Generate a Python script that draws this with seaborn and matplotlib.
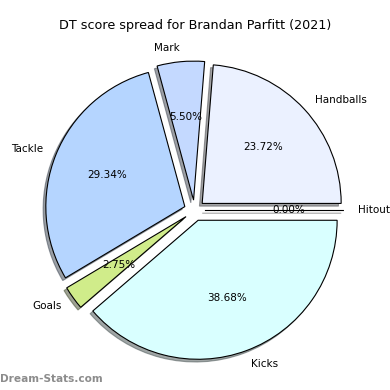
import matplotlib
matplotlib.use("Agg")
import matplotlib.pyplot as plt
import seaborn as sns

sns.set_style("white")
plt.rcParams['font.family'] = ['DejaVu Sans']

categories = ["Handballs", "Mark", "Tackle", "Goals", "Kicks", "Hitout"]
values = [23.72, 5.50, 29.34, 2.75, 38.68, 0.00]
colors = ["#EBF1FF", "#C4D9FF", "#B5D5FF", "#D0EC8A", "#D9FFFF", "#FFFFFF"]
explode = [0.075] * len(values)
title = "DT score spread for Brandan Parfitt (2021)"
watermark = "Dream-Stats.com"

fig = plt.figure(figsize=(3.9, 3.9), dpi=100)
R = 139
W = 2.5 * R / 390
cx, cy = 194.5, 210.5
ax = fig.add_axes([(cx - 1.25 * R) / 390, (390 - cy - 1.25 * R) / 390, W, W])
wedges, texts, autotexts = ax.pie(
    values, labels=categories, colors=colors, explode=explode,
    autopct="%1.2f%%", startangle=0, counterclock=True,
    shadow={"ox": -0.014, "oy": -0.014, "shade": 0.7},
    wedgeprops=dict(edgecolor="black", linewidth=0.8),
    textprops=dict(fontsize=7.5, color="black"),
)
ax.set_aspect("equal")
fig.text(0.5, (390 - 25) / 390, title, ha="center", va="center",
         fontsize=9.2, color="black")
fig.text(0.0, (390 - 379) / 390, watermark, ha="left", va="center",
         fontsize=7.6, color="#8c8c8c", fontweight="bold")
fig.savefig("out.png", dpi=100)
